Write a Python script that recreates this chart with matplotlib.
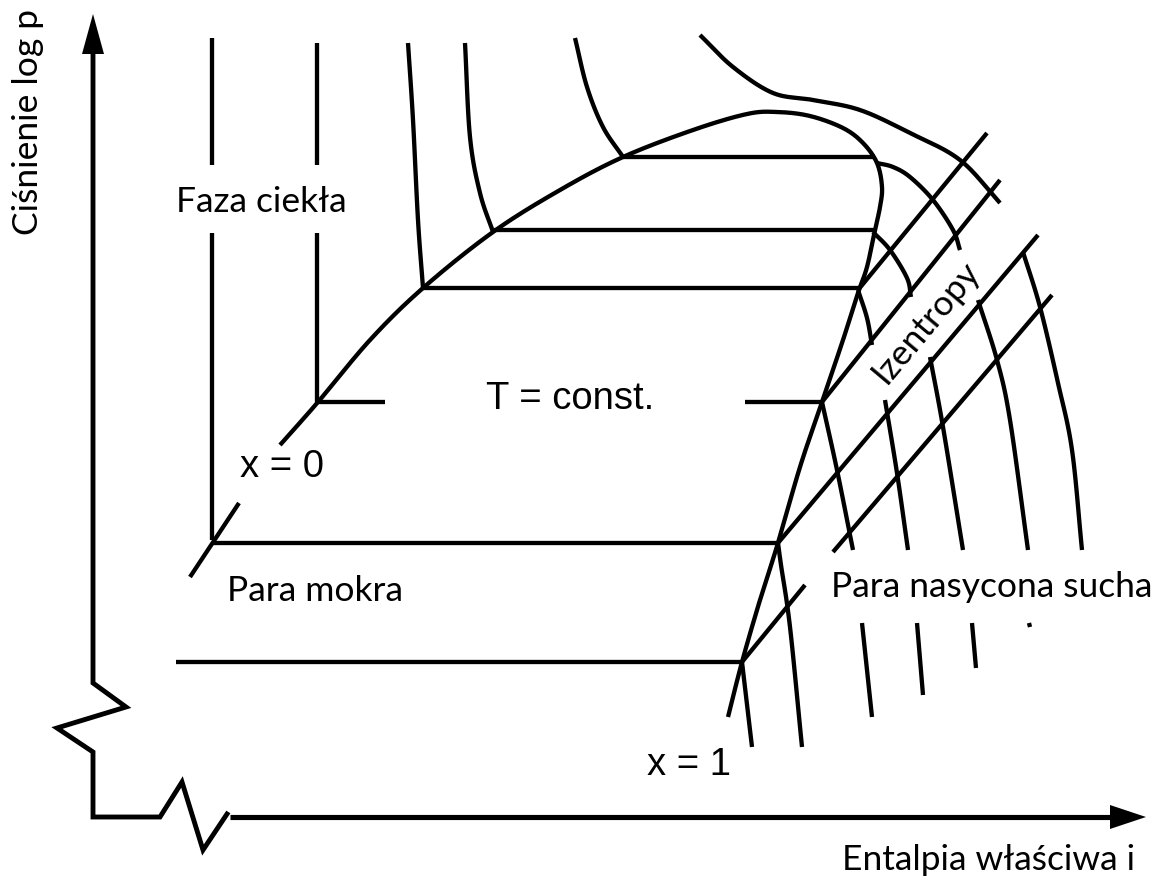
import numpy as np
import matplotlib.pyplot as plt

# log p - h diagram, schematic units (h to the right, p measured downwards from the top edge)

# saturation dome: boiling line x = 0 over the top into the dew line x = 1
dome_h = [280, 318, 370, 423, 493, 560, 623, 693, 747, 777, 810, 843, 863, 877, 882, 880, 875, 867, 858, 843, 822, 800, 778, 760, 742, 728]
dome_p = [445, 402, 340, 288, 232, 190, 157, 130, 114, 112, 116, 128, 143, 163, 187, 207, 230, 267, 293, 340, 402, 467, 543, 600, 662, 717]
x0_tail_h = [190, 239]
x0_tail_p = [577, 503]

# isotherms inside the dome (horizontal)
iso_p = [157, 230, 288, 543, 662]
iso_h0 = [623, 493, 423, 213, 176]
iso_h1 = [875, 875, 858, 778, 742]
tconst_p = 402
tconst_left = [318, 385]
tconst_right = [745, 822]

# isotherms in the liquid region
liq_h = [[575, 587, 603, 623], [465, 470, 480, 493], [408, 413, 418, 423]]
liq_p = [[38, 87, 127, 157], [43, 137, 193, 232], [43, 120, 220, 288]]
liq_vert_h = [212, 317]
liq_vert_p = [[(38, 165), (233, 540)], [(43, 165), (233, 402)]]

# supercritical isotherm
crit_h = [700, 733, 773, 813, 860, 910, 960, 1000]
crit_p = [35, 67, 93, 100, 110, 133, 160, 203]

# isotherms in the superheated vapour region
vap_h = [
    [877, 893, 910, 933, 953, 960],
    [873, 890, 907, 911],
    [858, 867, 872],
    [822, 837, 853],
    [862, 872],
    [778, 781, 790, 802],
    [742, 752],
    [885, 897, 908],
    [917, 923],
    [930, 943, 963],
    [972, 976],
    [978, 997, 1010, 1028],
    [1029, 1030],
    [1023, 1040, 1058, 1072, 1082],
]
vap_p = [
    [163, 167, 177, 200, 230, 250],
    [232, 250, 278, 297],
    [290, 318, 345],
    [402, 470, 550],
    [623, 717],
    [543, 565, 627, 747],
    [662, 747],
    [400, 473, 550],
    [623, 695],
    [357, 427, 550],
    [623, 668],
    [300, 360, 420, 550],
    [623, 627],
    [252, 307, 383, 450, 550],
]

# isentropes
isen_h = [[858, 987], [822, 1000], [778, 1038], [742, 805], [833, 1052]]
isen_p = [[290, 133], [402, 180], [543, 235], [662, 585], [552, 295]]

# axes with broken-axis zigzags
yaxis_h = [93, 93, 126, 57, 93, 93, 160, 182, 203, 227]
yaxis_p = [52, 683, 707, 728, 752, 817, 817, 782, 850, 814]
xaxis_h = [230, 1114]
xaxis_p = [817, 817]


def smooth(xs, ys, n=24):
    """Catmull-Rom curve through the given points."""
    pts = np.column_stack([xs, ys]).astype(float)
    if len(pts) < 3:
        return pts[:, 0], pts[:, 1]
    p = np.vstack([2 * pts[0] - pts[1], pts, 2 * pts[-1] - pts[-2]])
    t = np.linspace(0, 1, n, endpoint=False)[:, None]
    out = []
    for i in range(1, len(p) - 2):
        p0, p1, p2, p3 = p[i - 1], p[i], p[i + 1], p[i + 2]
        out.append(0.5 * (2 * p1 + (p2 - p0) * t
                          + (2 * p0 - 5 * p1 + 4 * p2 - p3) * t ** 2
                          + (3 * p1 - p0 - 3 * p2 + p3) * t ** 3))
    out.append(pts[-1:])
    out = np.vstack(out)
    return out[:, 0], out[:, 1]


fig = plt.figure(figsize=(11.56, 8.81), dpi=100)
ax = fig.add_axes([0, 0, 1, 1])
ax.set_xlim(0, 1156)
ax.set_ylim(881, 0)
ax.axis('off')

kw = dict(color='black', lw=3.1, solid_capstyle='butt', solid_joinstyle='round')

ax.plot(*smooth(dome_h, dome_p), **kw)
ax.plot(x0_tail_h, x0_tail_p, **kw)

for p, h0, h1 in zip(iso_p, iso_h0, iso_h1):
    ax.plot([h0, h1], [p, p], **kw)
ax.plot(tconst_left, [tconst_p] * 2, **kw)
ax.plot(tconst_right, [tconst_p] * 2, **kw)

for h, p in zip(liq_h, liq_p):
    ax.plot(*smooth(h, p), **kw)
for h, segs in zip(liq_vert_h, liq_vert_p):
    for p0, p1 in segs:
        ax.plot([h, h], [p0, p1], **kw)

ax.plot(*smooth(crit_h, crit_p), **kw)
for h, p in zip(vap_h, vap_p):
    ax.plot(*smooth(h, p), **kw)
for h, p in zip(isen_h, isen_p):
    ax.plot(h, p, **kw)

# coordinate axes and arrow heads
ax.plot(yaxis_h, yaxis_p, color='black', lw=3.5, solid_joinstyle='miter')
ax.plot(xaxis_h, xaxis_p, color='black', lw=3.7, solid_capstyle='butt')
ax.fill([93, 82, 104], [14, 54, 54], color='black', lw=0)
ax.fill([1146, 1110, 1110], [817, 805, 829], color='black', lw=0)

lab = dict(family=['Lato', 'DejaVu Sans'], fontsize=25.5, color='black')
arial = dict(family=['Liberation Sans', 'DejaVu Sans'], fontsize=27.5, color='black')

ax.text(38, 122, 'Ciśnienie log p', rotation=90, rotation_mode='anchor',
        ha='center', va='baseline', **lab)
ax.text(261, 212, 'Faza ciekła', ha='center', va='baseline', **lab)
ax.text(315, 601, 'Para mokra', ha='center', va='baseline', **lab)
ax.text(992, 597, 'Para nasycona sucha', ha='center', va='baseline', **lab)
ax.text(989, 870, 'Entalpia właściwa i', ha='center', va='baseline', **lab)
ax.text(926, 322, 'Izentropy', rotation=50, rotation_mode='anchor',
        ha='center', va='center', **lab)

ax.text(570, 409, 'T = const.', ha='center', va='baseline', **arial)
ax.text(282, 477, 'x = 0', ha='center', va='baseline', **arial)
ax.text(689, 775, 'x = 1', ha='center', va='baseline', **arial)

fig.savefig('out.png', dpi=100, facecolor='white')
